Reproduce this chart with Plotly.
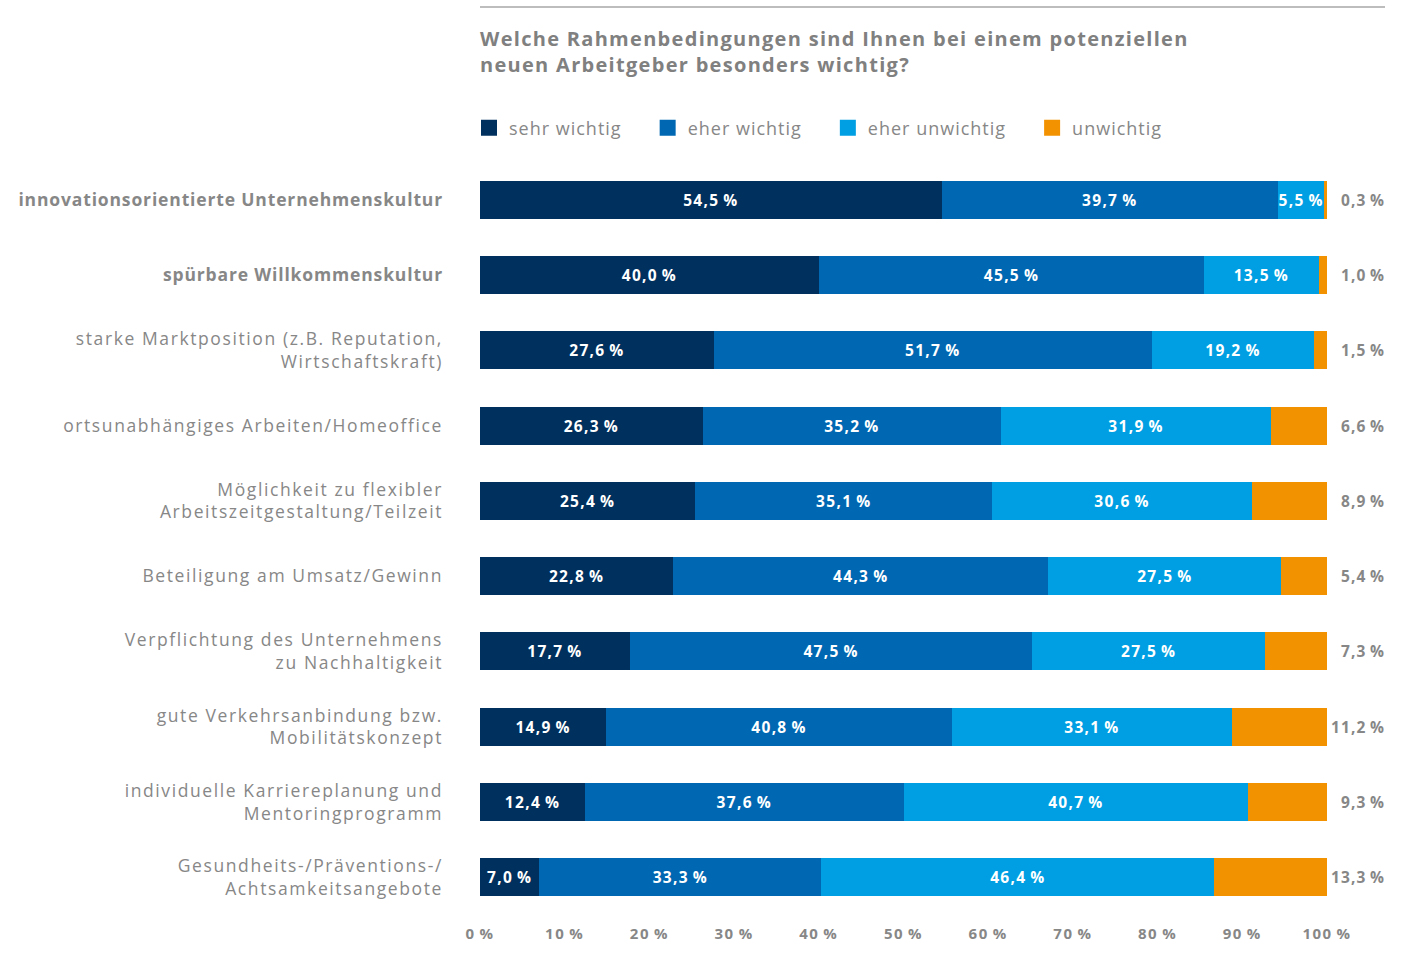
import plotly.graph_objects as go

# Survey items (top to bottom)
categories = [
    "<b>innovationsorientierte Unternehmenskultur</b>",
    "<b>spürbare Willkommenskultur</b>",
    "starke Marktposition (z.B. Reputation,<br>Wirtschaftskraft)",
    "ortsunabhängiges Arbeiten/Homeoffice",
    "Möglichkeit zu flexibler<br>Arbeitszeitgestaltung/Teilzeit",
    "Beteiligung am Umsatz/Gewinn",
    "Verpflichtung des Unternehmens<br>zu Nachhaltigkeit",
    "gute Verkehrsanbindung bzw.<br>Mobilitätskonzept",
    "individuelle Karriereplanung und<br>Mentoringprogramm",
    "Gesundheits-/Präventions-/<br>Achtsamkeitsangebote",
]

sehr_wichtig = [54.5, 40.0, 27.6, 26.3, 25.4, 22.8, 17.7, 14.9, 12.4, 7.0]
eher_wichtig = [39.7, 45.5, 51.7, 35.2, 35.1, 44.3, 47.5, 40.8, 37.6, 33.3]
eher_unwichtig = [5.5, 13.5, 19.2, 31.9, 30.6, 27.5, 27.5, 33.1, 40.7, 46.4]
unwichtig = [0.3, 1.0, 1.5, 6.6, 8.9, 5.4, 7.3, 11.2, 9.3, 13.3]

series_names = ["sehr wichtig", "eher wichtig", "eher unwichtig", "unwichtig"]
series_colors = ["#00305e", "#0068b3", "#009fe3", "#f39200"]

x_ticks = [0, 10, 20, 30, 40, 50, 60, 70, 80, 90, 100]

GRAY = "#878787"
FONT = "Open Sans"


def tracked(text, px):
    """Wrap text in a span with extra letter spacing (wide, tracked type)."""
    lines = text.split("<br>")
    return "<br>".join(f'<span style="letter-spacing:{px}px">{ln}</span>' for ln in lines)


def pct(v):
    return f"{v:.1f}".replace(".", ",") + "\u2009%"


fig = go.Figure()

series = [sehr_wichtig, eher_wichtig, eher_unwichtig, unwichtig]
for name, vals, color in zip(series_names, series, series_colors):
    inside = name != "unwichtig"
    fig.add_trace(go.Bar(
        y=categories, x=vals, orientation="h", name=name,
        marker=dict(color=color, line=dict(width=0)),
        width=0.505,
        text=[tracked(pct(v), 1.3) for v in vals] if inside else None,
        textposition="inside" if inside else "none",
        insidetextanchor="middle",
        textfont=dict(family=FONT, size=15.5, color="white", weight="bold"),
        showlegend=False,
        hoverinfo="skip",
    ))
    # legend swatch
    fig.add_trace(go.Scatter(
        x=[None], y=[None], mode="markers",
        name=tracked(name, 1.0) + "\u2003\u2009",
        marker=dict(symbol="square", size=16, color=color),
        showlegend=True,
    ))

# values of the last segment, right of each bar
for cat, v in zip(categories, unwichtig):
    fig.add_annotation(
        x=100, y=cat, xref="x", yref="y", text=tracked(pct(v), 1.1),
        xanchor="right", xshift=60, showarrow=False,
        font=dict(family=FONT, size=15.5, color=GRAY, weight="bold"),
    )

# rule above the title
fig.add_shape(type="line", xref="paper", yref="paper",
              x0=0, x1=(1385 - 480) / 847, y0=1.206, y1=1.206,
              line=dict(color="#bdbdbd", width=2))

title_text = tracked(
    "Welche Rahmenbedingungen sind Ihnen bei einem potenziellen<br>"
    "neuen Arbeitgeber besonders wichtig?", 1.3)

fig.update_layout(
    width=1401, height=967,
    margin=dict(l=480, r=74, t=162, b=52, autoexpand=False),
    paper_bgcolor="white", plot_bgcolor="white",
    barmode="stack",
    uniformtext=dict(minsize=15.5, mode="show"),
    font=dict(family=FONT, color=GRAY),
    title=dict(
        text=title_text,
        x=480 / 1401, xanchor="left", xref="container",
        y=1 - 46 / 967, yanchor="middle", yref="container",
        font=dict(family=FONT, size=20, color="#808080", weight="bold"),
    ),
    legend=dict(
        orientation="h", xref="container", yref="container",
        x=469 / 1401, xanchor="left", y=1 - 128 / 967, yanchor="middle",
        font=dict(family=FONT, size=18, color=GRAY),
        itemsizing="trace", traceorder="normal",
        bgcolor="rgba(0,0,0,0)",
    ),
    xaxis=dict(
        range=[0, 100], tickvals=x_ticks,
        ticktext=[tracked(f"{t}\u2009%", 1.5) for t in x_ticks],
        showgrid=False, zeroline=False, showline=False, ticks="",
        ticklabelstandoff=8, automargin=False,
        tickfont=dict(family=FONT, size=15, color=GRAY, weight="bold"),
        fixedrange=True,
    ),
    yaxis=dict(
        categoryorder="array", categoryarray=categories,
        range=[9.5, -0.5],
        tickmode="array", tickvals=categories,
        ticktext=[tracked(c, 0.85 if c.startswith("<b>") else 1.6) for c in categories],
        showgrid=False, zeroline=False, showline=False, ticks="",
        ticklabelstandoff=36, automargin=False,
        tickfont=dict(family=FONT, size=17.5, color=GRAY),
        fixedrange=True,
    ),
)

fig.write_html("out.html")
